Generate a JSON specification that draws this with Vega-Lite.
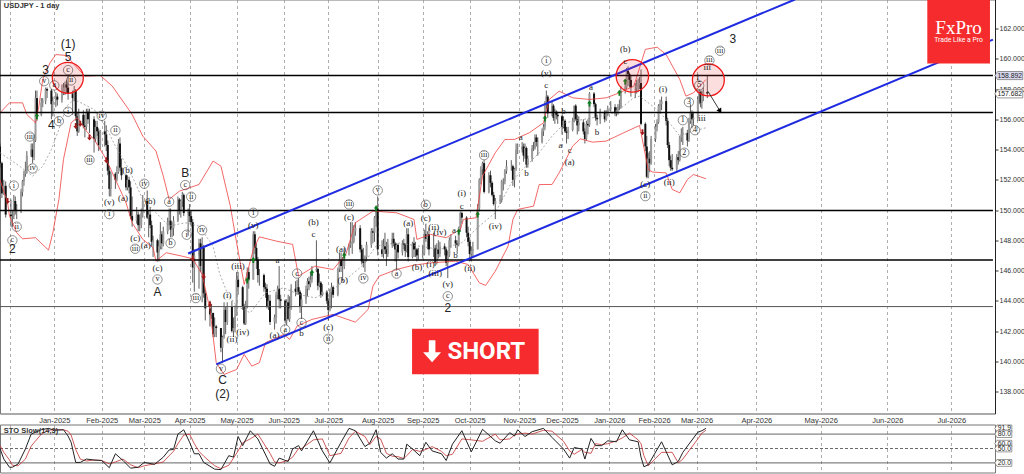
{"$schema":"https://vega.github.io/schema/vega-lite/v6.json","padding":{"left":-3,"top":-1.5,"right":0,"bottom":0},"background":"white","spacing":11,"bounds":"flush",
"config":{"view":{"stroke":"#777","strokeWidth":1},"text":{"font":"Liberation Sans"}},
"datasets":{
"bars":[
{"d":"2024-11-26","o":154.2,"h":154.4,"l":152.8,"c":153.1},{"d":"2024-11-27","o":153.1,"h":153.2,"l":150.8,"c":151.1},{"d":"2024-11-28","o":151.1,"h":152.0,"l":151.0,"c":151.6},{"d":"2024-11-29","o":151.6,"h":151.9,"l":149.5,"c":149.7},
{"d":"2024-12-02","o":149.7,"h":150.7,"l":148.9,"c":149.6},{"d":"2024-12-03","o":149.6,"h":150.0,"l":148.9,"c":149.6},{"d":"2024-12-04","o":149.6,"h":151.0,"l":149.4,"c":150.6},{"d":"2024-12-05","o":150.6,"h":150.9,"l":149.7,"c":150.0},{"d":"2024-12-06","o":150.0,"h":150.4,"l":149.4,"c":150.0},{"d":"2024-12-09","o":150.0,"h":151.4,"l":149.8,"c":151.2},{"d":"2024-12-10","o":151.2,"h":152.0,"l":150.9,"c":151.9},{"d":"2024-12-11","o":151.9,"h":152.6,"l":151.6,"c":152.4},{"d":"2024-12-12","o":152.4,"h":153.2,"l":152.2,"c":152.6},{"d":"2024-12-13","o":152.6,"h":153.9,"l":152.4,"c":153.6},{"d":"2024-12-16","o":153.6,"h":154.4,"l":153.5,"c":154.0},{"d":"2024-12-17","o":154.0,"h":154.4,"l":153.1,"c":153.5},{"d":"2024-12-18","o":153.5,"h":155.0,"l":153.3,"c":154.6},{"d":"2024-12-19","o":154.6,"h":157.9,"l":154.5,"c":157.4},{"d":"2024-12-20","o":157.4,"h":157.9,"l":155.9,"c":156.3},{"d":"2024-12-23","o":156.3,"h":157.4,"l":156.2,"c":157.1},{"d":"2024-12-24","o":157.1,"h":157.4,"l":156.8,"c":157.2},{"d":"2024-12-26","o":157.2,"h":158.1,"l":157.0,"c":158.0},{"d":"2024-12-27","o":158.0,"h":158.1,"l":157.4,"c":157.9},{"d":"2024-12-30","o":157.9,"h":158.0,"l":156.0,"c":157.0},{"d":"2024-12-31","o":157.0,"h":157.5,"l":156.2,"c":157.2},
{"d":"2025-01-02","o":157.2,"h":157.8,"l":156.8,"c":157.5},{"d":"2025-01-03","o":157.5,"h":157.7,"l":156.9,"c":157.3},{"d":"2025-01-06","o":157.3,"h":158.3,"l":157.1,"c":157.7},{"d":"2025-01-07","o":157.7,"h":158.4,"l":157.6,"c":158.1},{"d":"2025-01-08","o":158.1,"h":158.5,"l":157.6,"c":158.3},{"d":"2025-01-09","o":158.3,"h":158.6,"l":157.7,"c":158.1},{"d":"2025-01-10","o":158.1,"h":158.9,"l":157.3,"c":157.7},{"d":"2025-01-13","o":157.7,"h":157.9,"l":156.3,"c":157.4},{"d":"2025-01-14","o":157.4,"h":158.2,"l":157.2,"c":157.9},{"d":"2025-01-15","o":157.9,"h":158.0,"l":155.9,"c":156.2},{"d":"2025-01-16","o":156.2,"h":156.5,"l":154.9,"c":155.2},{"d":"2025-01-17","o":155.2,"h":156.7,"l":155.1,"c":156.3},{"d":"2025-01-20","o":156.3,"h":156.6,"l":155.4,"c":155.6},{"d":"2025-01-21","o":155.6,"h":156.3,"l":154.8,"c":155.5},{"d":"2025-01-22","o":155.5,"h":156.7,"l":155.3,"c":156.5},{"d":"2025-01-23","o":156.5,"h":156.7,"l":155.7,"c":156.0},{"d":"2025-01-24","o":156.0,"h":156.7,"l":155.1,"c":156.0},{"d":"2025-01-27","o":156.0,"h":156.2,"l":153.8,"c":154.7},{"d":"2025-01-28","o":154.7,"h":155.9,"l":154.5,"c":155.5},{"d":"2025-01-29","o":155.5,"h":155.9,"l":154.9,"c":155.2},{"d":"2025-01-30","o":155.2,"h":155.4,"l":153.9,"c":154.3},{"d":"2025-01-31","o":154.3,"h":155.3,"l":154.0,"c":155.2},
{"d":"2025-02-03","o":155.2,"h":155.9,"l":154.2,"c":155.0},{"d":"2025-02-04","o":155.0,"h":155.6,"l":153.9,"c":154.3},{"d":"2025-02-05","o":154.3,"h":154.6,"l":152.3,"c":152.6},{"d":"2025-02-06","o":152.6,"h":152.9,"l":150.9,"c":151.4},{"d":"2025-02-07","o":151.4,"h":152.5,"l":150.9,"c":152.4},{"d":"2025-02-10","o":152.4,"h":152.5,"l":151.4,"c":152.0},{"d":"2025-02-11","o":152.0,"h":152.9,"l":151.9,"c":152.5},{"d":"2025-02-12","o":152.5,"h":154.7,"l":152.4,"c":154.4},{"d":"2025-02-13","o":154.4,"h":154.8,"l":152.6,"c":152.8},{"d":"2025-02-14","o":152.8,"h":153.4,"l":152.0,"c":152.3},{"d":"2025-02-17","o":152.3,"h":152.4,"l":151.3,"c":151.5},{"d":"2025-02-18","o":151.5,"h":152.3,"l":151.3,"c":152.0},{"d":"2025-02-19","o":152.0,"h":152.2,"l":151.1,"c":151.5},{"d":"2025-02-20","o":151.5,"h":151.9,"l":149.4,"c":149.6},{"d":"2025-02-21","o":149.6,"h":150.9,"l":148.9,"c":149.3},{"d":"2025-02-24","o":149.3,"h":150.2,"l":149.1,"c":149.7},{"d":"2025-02-25","o":149.7,"h":149.9,"l":148.6,"c":149.0},{"d":"2025-02-26","o":149.0,"h":149.7,"l":148.6,"c":149.0},{"d":"2025-02-27","o":149.0,"h":150.1,"l":148.8,"c":149.8},{"d":"2025-02-28","o":149.8,"h":151.0,"l":149.5,"c":150.6},
{"d":"2025-03-03","o":150.6,"h":151.3,"l":149.4,"c":149.5},{"d":"2025-03-04","o":149.5,"h":150.0,"l":148.2,"c":149.7},{"d":"2025-03-05","o":149.7,"h":150.2,"l":148.8,"c":149.0},{"d":"2025-03-06","o":149.0,"h":149.3,"l":147.6,"c":147.9},{"d":"2025-03-07","o":147.9,"h":148.3,"l":146.9,"c":148.0},{"d":"2025-03-10","o":148.0,"h":148.1,"l":146.6,"c":147.2},{"d":"2025-03-11","o":147.2,"h":148.0,"l":146.6,"c":147.6},{"d":"2025-03-12","o":147.6,"h":149.2,"l":147.4,"c":148.4},{"d":"2025-03-13","o":148.4,"h":148.6,"l":147.4,"c":147.8},{"d":"2025-03-14","o":147.8,"h":148.9,"l":147.6,"c":148.6},{"d":"2025-03-17","o":148.6,"h":149.5,"l":148.4,"c":149.2},{"d":"2025-03-18","o":149.2,"h":150.1,"l":149.0,"c":149.3},{"d":"2025-03-19","o":149.3,"h":150.1,"l":148.2,"c":148.7},{"d":"2025-03-20","o":148.7,"h":149.2,"l":148.2,"c":148.8},{"d":"2025-03-21","o":148.8,"h":149.6,"l":148.3,"c":149.3},{"d":"2025-03-24","o":149.3,"h":150.9,"l":149.2,"c":150.7},{"d":"2025-03-25","o":150.7,"h":150.8,"l":149.7,"c":150.0},{"d":"2025-03-26","o":150.0,"h":150.7,"l":149.5,"c":150.6},{"d":"2025-03-27","o":150.6,"h":151.2,"l":150.2,"c":151.0},{"d":"2025-03-28","o":151.0,"h":151.1,"l":149.6,"c":149.8},{"d":"2025-03-31","o":149.8,"h":150.1,"l":148.3,"c":149.9},
{"d":"2025-04-01","o":149.9,"h":150.4,"l":149.2,"c":149.6},{"d":"2025-04-02","o":149.6,"h":150.0,"l":148.9,"c":149.2},{"d":"2025-04-03","o":149.2,"h":149.4,"l":145.2,"c":146.2},{"d":"2025-04-04","o":146.2,"h":147.4,"l":144.6,"c":147.0},{"d":"2025-04-07","o":147.0,"h":148.1,"l":144.8,"c":147.8},{"d":"2025-04-08","o":147.8,"h":148.1,"l":145.9,"c":146.3},{"d":"2025-04-09","o":146.3,"h":148.2,"l":143.9,"c":147.5},{"d":"2025-04-10","o":147.5,"h":147.7,"l":144.2,"c":144.5},{"d":"2025-04-11","o":144.5,"h":144.7,"l":142.7,"c":143.5},{"d":"2025-04-14","o":143.5,"h":144.0,"l":142.3,"c":143.1},{"d":"2025-04-15","o":143.1,"h":143.8,"l":142.8,"c":143.2},{"d":"2025-04-16","o":143.2,"h":143.2,"l":141.6,"c":141.8},{"d":"2025-04-17","o":141.8,"h":142.9,"l":141.6,"c":142.3},{"d":"2025-04-18","o":142.3,"h":142.4,"l":141.6,"c":142.2},{"d":"2025-04-21","o":142.2,"h":142.2,"l":140.6,"c":140.9},{"d":"2025-04-22","o":140.9,"h":141.7,"l":139.9,"c":141.6},{"d":"2025-04-23","o":141.6,"h":143.9,"l":141.5,"c":143.4},{"d":"2025-04-24","o":143.4,"h":143.6,"l":141.8,"c":142.6},{"d":"2025-04-25","o":142.6,"h":143.9,"l":142.4,"c":143.6},{"d":"2025-04-28","o":143.6,"h":144.0,"l":141.9,"c":142.0},{"d":"2025-04-29","o":142.0,"h":142.9,"l":141.6,"c":142.2},{"d":"2025-04-30","o":142.2,"h":143.7,"l":141.9,"c":143.0},
{"d":"2025-05-01","o":143.0,"h":145.9,"l":143.0,"c":145.4},{"d":"2025-05-02","o":145.4,"h":145.9,"l":144.4,"c":144.9},{"d":"2025-05-05","o":144.9,"h":145.0,"l":143.4,"c":143.6},{"d":"2025-05-06","o":143.6,"h":143.8,"l":142.4,"c":142.5},{"d":"2025-05-07","o":142.5,"h":144.0,"l":142.4,"c":143.7},{"d":"2025-05-08","o":143.7,"h":146.2,"l":143.5,"c":145.9},{"d":"2025-05-09","o":145.9,"h":146.2,"l":144.8,"c":145.4},{"d":"2025-05-12","o":145.4,"h":148.6,"l":145.4,"c":148.4},{"d":"2025-05-13","o":148.4,"h":148.6,"l":147.1,"c":147.5},{"d":"2025-05-14","o":147.5,"h":147.8,"l":146.1,"c":146.7},{"d":"2025-05-15","o":146.7,"h":146.9,"l":145.2,"c":145.7},{"d":"2025-05-16","o":145.7,"h":146.1,"l":145.0,"c":145.7},{"d":"2025-05-19","o":145.7,"h":145.8,"l":144.6,"c":144.9},{"d":"2025-05-20","o":144.9,"h":145.2,"l":144.2,"c":144.8},{"d":"2025-05-21","o":144.8,"h":145.1,"l":143.5,"c":143.6},{"d":"2025-05-22","o":143.6,"h":144.4,"l":143.4,"c":144.0},{"d":"2025-05-23","o":144.0,"h":144.4,"l":142.4,"c":142.6},{"d":"2025-05-26","o":142.6,"h":143.1,"l":142.1,"c":142.9},{"d":"2025-05-27","o":142.9,"h":144.6,"l":142.5,"c":144.4},{"d":"2025-05-28","o":144.4,"h":145.0,"l":144.1,"c":144.8},{"d":"2025-05-29","o":144.8,"h":146.3,"l":143.5,"c":144.1},{"d":"2025-05-30","o":144.1,"h":144.4,"l":143.5,"c":144.0},
{"d":"2025-06-02","o":144.0,"h":144.1,"l":142.5,"c":142.7},{"d":"2025-06-03","o":142.7,"h":144.1,"l":142.4,"c":143.9},{"d":"2025-06-04","o":143.9,"h":144.4,"l":142.7,"c":142.8},{"d":"2025-06-05","o":142.8,"h":144.3,"l":142.6,"c":143.5},{"d":"2025-06-06","o":143.5,"h":145.1,"l":143.4,"c":144.8},{"d":"2025-06-09","o":144.8,"h":145.3,"l":144.3,"c":144.6},{"d":"2025-06-10","o":144.6,"h":145.4,"l":144.4,"c":144.9},{"d":"2025-06-11","o":144.9,"h":145.5,"l":144.4,"c":144.6},{"d":"2025-06-12","o":144.6,"h":144.7,"l":143.2,"c":143.6},{"d":"2025-06-13","o":143.6,"h":144.5,"l":142.8,"c":144.1},{"d":"2025-06-16","o":144.1,"h":145.0,"l":143.8,"c":144.8},{"d":"2025-06-17","o":144.8,"h":145.5,"l":144.3,"c":145.3},{"d":"2025-06-18","o":145.3,"h":145.6,"l":144.7,"c":145.1},{"d":"2025-06-19","o":145.1,"h":145.9,"l":144.9,"c":145.4},{"d":"2025-06-20","o":145.4,"h":146.3,"l":145.2,"c":146.0},{"d":"2025-06-23","o":146.0,"h":148.0,"l":145.9,"c":146.1},{"d":"2025-06-24","o":146.1,"h":146.2,"l":144.7,"c":145.0},{"d":"2025-06-25","o":145.0,"h":145.8,"l":144.9,"c":145.2},{"d":"2025-06-26","o":145.2,"h":145.3,"l":144.2,"c":144.4},{"d":"2025-06-27","o":144.4,"h":145.1,"l":144.3,"c":144.6},{"d":"2025-06-30","o":144.6,"h":144.7,"l":143.8,"c":144.0},
{"d":"2025-07-01","o":144.0,"h":144.2,"l":142.7,"c":143.4},{"d":"2025-07-02","o":143.4,"h":144.8,"l":143.3,"c":144.6},{"d":"2025-07-03","o":144.6,"h":145.2,"l":143.5,"c":144.9},{"d":"2025-07-04","o":144.9,"h":145.0,"l":144.2,"c":144.4},{"d":"2025-07-07","o":144.4,"h":146.2,"l":144.3,"c":146.1},{"d":"2025-07-08","o":146.1,"h":147.2,"l":145.9,"c":146.7},{"d":"2025-07-09","o":146.7,"h":147.2,"l":145.9,"c":146.3},{"d":"2025-07-10","o":146.3,"h":146.9,"l":145.3,"c":146.3},{"d":"2025-07-11","o":146.3,"h":147.5,"l":146.1,"c":147.4},{"d":"2025-07-14","o":147.4,"h":147.8,"l":147.0,"c":147.7},{"d":"2025-07-15","o":147.7,"h":149.2,"l":147.5,"c":147.8},{"d":"2025-07-16","o":147.8,"h":149.2,"l":147.1,"c":147.9},{"d":"2025-07-17","o":147.9,"h":149.0,"l":147.8,"c":148.6},{"d":"2025-07-18","o":148.6,"h":149.2,"l":148.3,"c":148.8},{"d":"2025-07-21","o":148.8,"h":149.0,"l":147.2,"c":147.4},{"d":"2025-07-22","o":147.4,"h":147.7,"l":146.4,"c":146.6},{"d":"2025-07-23","o":146.6,"h":147.5,"l":146.2,"c":146.5},{"d":"2025-07-24","o":146.5,"h":147.0,"l":145.9,"c":146.9},{"d":"2025-07-25","o":146.9,"h":147.9,"l":146.6,"c":147.7},{"d":"2025-07-28","o":147.7,"h":148.8,"l":147.5,"c":148.6},{"d":"2025-07-29","o":148.6,"h":148.8,"l":147.8,"c":148.5},{"d":"2025-07-30","o":148.5,"h":149.6,"l":147.9,"c":149.5},{"d":"2025-07-31","o":149.5,"h":150.3,"l":148.9,"c":150.1},
{"d":"2025-08-01","o":150.1,"h":150.9,"l":147.0,"c":147.4},{"d":"2025-08-04","o":147.4,"h":148.0,"l":146.9,"c":147.1},{"d":"2025-08-05","o":147.1,"h":148.1,"l":146.8,"c":147.6},{"d":"2025-08-06","o":147.6,"h":148.5,"l":147.1,"c":147.4},{"d":"2025-08-07","o":147.4,"h":147.9,"l":146.3,"c":147.1},{"d":"2025-08-08","o":147.1,"h":148.1,"l":146.9,"c":147.7},{"d":"2025-08-11","o":147.7,"h":148.5,"l":147.5,"c":148.1},{"d":"2025-08-12","o":148.1,"h":148.5,"l":147.6,"c":147.8},{"d":"2025-08-13","o":147.8,"h":147.9,"l":146.6,"c":147.4},{"d":"2025-08-14","o":147.4,"h":147.8,"l":146.0,"c":147.7},{"d":"2025-08-15","o":147.7,"h":147.8,"l":146.8,"c":147.2},{"d":"2025-08-18","o":147.2,"h":148.0,"l":147.0,"c":147.8},{"d":"2025-08-19","o":147.8,"h":148.1,"l":147.4,"c":147.7},{"d":"2025-08-20","o":147.7,"h":147.8,"l":146.9,"c":147.3},{"d":"2025-08-21","o":147.3,"h":148.8,"l":147.2,"c":148.4},{"d":"2025-08-22","o":148.4,"h":148.8,"l":146.6,"c":146.9},{"d":"2025-08-25","o":146.9,"h":147.9,"l":146.8,"c":147.8},{"d":"2025-08-26","o":147.8,"h":148.2,"l":146.9,"c":147.4},{"d":"2025-08-27","o":147.4,"h":147.9,"l":146.9,"c":147.4},{"d":"2025-08-28","o":147.4,"h":147.5,"l":146.6,"c":147.0},{"d":"2025-08-29","o":147.0,"h":147.5,"l":146.7,"c":147.0},
{"d":"2025-09-01","o":147.0,"h":147.7,"l":146.8,"c":147.1},{"d":"2025-09-02","o":147.1,"h":148.7,"l":147.0,"c":148.4},{"d":"2025-09-03","o":148.4,"h":149.1,"l":147.9,"c":148.1},{"d":"2025-09-04","o":148.1,"h":148.6,"l":147.4,"c":148.4},{"d":"2025-09-05","o":148.4,"h":148.8,"l":147.0,"c":147.4},{"d":"2025-09-08","o":147.4,"h":148.5,"l":146.9,"c":147.5},{"d":"2025-09-09","o":147.5,"h":147.7,"l":146.3,"c":146.5},{"d":"2025-09-10","o":146.5,"h":147.8,"l":146.4,"c":147.4},{"d":"2025-09-11","o":147.4,"h":148.0,"l":146.8,"c":147.1},{"d":"2025-09-12","o":147.1,"h":147.9,"l":146.9,"c":147.6},{"d":"2025-09-15","o":147.6,"h":147.8,"l":147.0,"c":147.4},{"d":"2025-09-16","o":147.4,"h":147.5,"l":146.3,"c":146.5},{"d":"2025-09-17","o":146.5,"h":147.3,"l":145.5,"c":147.0},{"d":"2025-09-18","o":147.0,"h":148.2,"l":146.9,"c":148.0},{"d":"2025-09-19","o":148.0,"h":148.4,"l":147.5,"c":148.0},{"d":"2025-09-22","o":148.0,"h":148.3,"l":147.5,"c":147.8},{"d":"2025-09-23","o":147.8,"h":148.0,"l":147.1,"c":147.7},{"d":"2025-09-24","o":147.7,"h":148.9,"l":147.6,"c":148.8},{"d":"2025-09-25","o":148.8,"h":149.9,"l":148.6,"c":149.8},{"d":"2025-09-26","o":149.8,"h":149.9,"l":149.1,"c":149.5},{"d":"2025-09-29","o":149.5,"h":149.6,"l":148.2,"c":148.5},{"d":"2025-09-30","o":148.5,"h":148.9,"l":147.6,"c":147.9},
{"d":"2025-10-01","o":147.9,"h":148.2,"l":146.6,"c":147.1},{"d":"2025-10-02","o":147.1,"h":147.6,"l":146.6,"c":147.3},{"d":"2025-10-03","o":147.3,"h":147.9,"l":146.9,"c":147.4},{"d":"2025-10-06","o":147.4,"h":150.4,"l":147.4,"c":150.1},{"d":"2025-10-07","o":150.1,"h":152.1,"l":149.9,"c":152.0},{"d":"2025-10-08","o":152.0,"h":152.9,"l":151.7,"c":152.7},{"d":"2025-10-09","o":152.7,"h":153.2,"l":152.3,"c":153.1},{"d":"2025-10-10","o":153.1,"h":153.3,"l":151.1,"c":151.2},{"d":"2025-10-13","o":151.2,"h":152.5,"l":151.1,"c":152.3},{"d":"2025-10-14","o":152.3,"h":152.6,"l":151.5,"c":151.8},{"d":"2025-10-15","o":151.8,"h":151.9,"l":150.9,"c":151.0},{"d":"2025-10-16","o":151.0,"h":151.2,"l":150.3,"c":150.4},{"d":"2025-10-17","o":150.4,"h":150.8,"l":149.4,"c":150.6},{"d":"2025-10-20","o":150.6,"h":151.0,"l":150.4,"c":150.7},{"d":"2025-10-21","o":150.7,"h":152.0,"l":150.5,"c":151.9},{"d":"2025-10-22","o":151.9,"h":152.1,"l":151.3,"c":151.9},{"d":"2025-10-23","o":151.9,"h":152.7,"l":151.7,"c":152.6},{"d":"2025-10-24","o":152.6,"h":153.3,"l":152.4,"c":152.9},{"d":"2025-10-27","o":152.9,"h":153.3,"l":152.6,"c":152.9},{"d":"2025-10-28","o":152.9,"h":153.0,"l":151.6,"c":152.0},{"d":"2025-10-29","o":152.0,"h":152.8,"l":151.5,"c":152.7},{"d":"2025-10-30","o":152.7,"h":154.4,"l":152.6,"c":154.0},{"d":"2025-10-31","o":154.0,"h":154.4,"l":153.7,"c":154.0},
{"d":"2025-11-03","o":154.0,"h":154.5,"l":153.8,"c":154.2},{"d":"2025-11-04","o":154.2,"h":154.4,"l":153.2,"c":153.6},{"d":"2025-11-05","o":153.6,"h":154.4,"l":153.4,"c":154.1},{"d":"2025-11-06","o":154.1,"h":154.2,"l":152.8,"c":153.0},{"d":"2025-11-07","o":153.0,"h":153.6,"l":152.8,"c":153.4},{"d":"2025-11-10","o":153.4,"h":154.3,"l":153.2,"c":154.1},{"d":"2025-11-11","o":154.1,"h":154.5,"l":153.9,"c":154.1},{"d":"2025-11-12","o":154.1,"h":155.0,"l":154.0,"c":154.8},{"d":"2025-11-13","o":154.8,"h":155.0,"l":154.2,"c":154.5},{"d":"2025-11-14","o":154.5,"h":154.8,"l":153.6,"c":154.5},{"d":"2025-11-17","o":154.5,"h":155.4,"l":154.4,"c":155.2},{"d":"2025-11-18","o":155.2,"h":155.7,"l":154.9,"c":155.5},{"d":"2025-11-19","o":155.5,"h":157.2,"l":155.3,"c":157.0},{"d":"2025-11-20","o":157.0,"h":157.9,"l":156.7,"c":157.5},{"d":"2025-11-21","o":157.5,"h":157.6,"l":156.1,"c":156.4},{"d":"2025-11-24","o":156.4,"h":157.2,"l":156.2,"c":156.9},{"d":"2025-11-25","o":156.9,"h":157.0,"l":155.9,"c":156.1},{"d":"2025-11-26","o":156.1,"h":156.7,"l":155.7,"c":156.5},{"d":"2025-11-27","o":156.5,"h":156.6,"l":156.0,"c":156.3},{"d":"2025-11-28","o":156.3,"h":156.5,"l":155.7,"c":156.2},
{"d":"2025-12-01","o":156.2,"h":156.3,"l":155.0,"c":155.5},{"d":"2025-12-02","o":155.5,"h":156.2,"l":155.4,"c":155.9},{"d":"2025-12-03","o":155.9,"h":156.0,"l":155.1,"c":155.2},{"d":"2025-12-04","o":155.2,"h":155.5,"l":154.4,"c":155.1},{"d":"2025-12-05","o":155.1,"h":155.5,"l":154.7,"c":155.3},{"d":"2025-12-08","o":155.3,"h":156.1,"l":155.2,"c":155.9},{"d":"2025-12-09","o":155.9,"h":156.9,"l":155.8,"c":156.9},{"d":"2025-12-10","o":156.9,"h":157.0,"l":155.9,"c":156.0},{"d":"2025-12-11","o":156.0,"h":156.3,"l":155.0,"c":155.6},{"d":"2025-12-12","o":155.6,"h":156.2,"l":155.2,"c":155.8},{"d":"2025-12-15","o":155.8,"h":156.0,"l":155.0,"c":155.2},{"d":"2025-12-16","o":155.2,"h":155.4,"l":154.4,"c":154.7},{"d":"2025-12-17","o":154.7,"h":155.9,"l":154.6,"c":155.7},{"d":"2025-12-18","o":155.7,"h":156.0,"l":155.0,"c":155.6},{"d":"2025-12-19","o":155.6,"h":157.8,"l":155.5,"c":157.7},{"d":"2025-12-22","o":157.7,"h":157.8,"l":156.8,"c":157.0},{"d":"2025-12-23","o":157.0,"h":157.1,"l":155.9,"c":156.1},{"d":"2025-12-24","o":156.1,"h":156.3,"l":155.6,"c":156.0},{"d":"2025-12-26","o":156.0,"h":156.7,"l":155.7,"c":156.5},{"d":"2025-12-29","o":156.5,"h":156.6,"l":155.8,"c":156.0},{"d":"2025-12-30","o":156.0,"h":156.6,"l":155.9,"c":156.4},{"d":"2025-12-31","o":156.4,"h":156.9,"l":156.2,"c":156.7},
{"d":"2026-01-02","o":156.7,"h":157.2,"l":156.5,"c":156.8},{"d":"2026-01-05","o":156.8,"h":157.0,"l":156.2,"c":156.4},{"d":"2026-01-06","o":156.4,"h":156.8,"l":156.2,"c":156.6},{"d":"2026-01-07","o":156.6,"h":157.0,"l":156.3,"c":156.8},{"d":"2026-01-08","o":156.8,"h":157.3,"l":156.6,"c":156.8},{"d":"2026-01-09","o":156.8,"h":158.2,"l":156.7,"c":157.9},{"d":"2026-01-12","o":157.9,"h":158.4,"l":157.7,"c":158.1},{"d":"2026-01-13","o":158.1,"h":159.4,"l":158.0,"c":159.2},{"d":"2026-01-14","o":159.2,"h":159.5,"l":158.2,"c":159.0},{"d":"2026-01-15","o":159.0,"h":159.1,"l":158.1,"c":158.6},{"d":"2026-01-16","o":158.6,"h":158.9,"l":157.5,"c":158.1},{"d":"2026-01-19","o":158.1,"h":158.4,"l":157.4,"c":158.1},{"d":"2026-01-20","o":158.1,"h":158.6,"l":157.7,"c":158.2},{"d":"2026-01-21","o":158.2,"h":158.7,"l":157.8,"c":158.3},{"d":"2026-01-22","o":158.3,"h":158.8,"l":158.0,"c":158.4},{"d":"2026-01-23","o":158.4,"h":159.3,"l":155.6,"c":155.7},{"d":"2026-01-26","o":155.7,"h":155.8,"l":153.9,"c":154.2},{"d":"2026-01-27","o":154.2,"h":154.9,"l":152.1,"c":152.2},{"d":"2026-01-28","o":152.2,"h":153.8,"l":152.1,"c":153.4},{"d":"2026-01-29","o":153.4,"h":153.9,"l":152.5,"c":153.1},{"d":"2026-01-30","o":153.1,"h":154.9,"l":153.0,"c":154.7},
{"d":"2026-02-02","o":154.7,"h":155.7,"l":154.5,"c":155.5},{"d":"2026-02-03","o":155.5,"h":156.0,"l":155.2,"c":155.8},{"d":"2026-02-04","o":155.8,"h":157.0,"l":155.7,"c":156.9},{"d":"2026-02-05","o":156.9,"h":157.3,"l":156.4,"c":157.0},{"d":"2026-02-06","o":157.0,"h":157.5,"l":156.6,"c":157.2},{"d":"2026-02-09","o":157.2,"h":157.5,"l":155.6,"c":155.9},{"d":"2026-02-10","o":155.9,"h":156.1,"l":154.1,"c":154.3},{"d":"2026-02-11","o":154.3,"h":154.5,"l":152.9,"c":153.3},{"d":"2026-02-12","o":153.3,"h":153.6,"l":152.6,"c":152.8},{"d":"2026-02-13","o":152.8,"h":153.7,"l":152.6,"c":152.7},{"d":"2026-02-16","o":152.7,"h":153.7,"l":152.6,"c":153.5},{"d":"2026-02-17","o":153.5,"h":153.9,"l":153.0,"c":153.3},{"d":"2026-02-18","o":153.3,"h":154.9,"l":153.2,"c":154.8},{"d":"2026-02-19","o":154.8,"h":155.4,"l":154.5,"c":155.0},{"d":"2026-02-20","o":155.0,"h":155.5,"l":154.3,"c":155.1},{"d":"2026-02-23","o":155.1,"h":155.3,"l":154.2,"c":154.6},{"d":"2026-02-24","o":154.6,"h":156.1,"l":154.5,"c":155.9},{"d":"2026-02-25","o":155.9,"h":157.0,"l":155.7,"c":156.4},{"d":"2026-02-26","o":156.4,"h":156.6,"l":155.4,"c":156.0},{"d":"2026-02-27","o":156.0,"h":156.5,"l":155.6,"c":156.1},
{"d":"2026-03-02","o":156.1,"h":157.5,"l":155.9,"c":157.3},{"d":"2026-03-03","o":157.3,"h":158.0,"l":157.0,"c":157.8},{"d":"2026-03-04","o":157.8,"h":157.9,"l":156.8,"c":157.1},{"d":"2026-03-05","o":157.1,"h":157.9,"l":156.7,"c":157.6},{"d":"2026-03-06","o":157.6,"h":158.1,"l":157.2,"c":157.8},{"d":"2026-03-09","o":157.8,"h":158.9,"l":157.4,"c":157.7}
],
"upper":[{"d":"2024-11-26","p":156.43},{"d":"2024-12-01","p":157.09},{"d":"2024-12-10","p":157.09},{"d":"2024-12-13","p":156.32},{"d":"2024-12-19","p":155.77},{"d":"2024-12-21","p":156.65},{"d":"2024-12-24","p":158.63},{"d":"2024-12-29","p":159.73},{"d":"2025-01-02","p":160.28},{"d":"2025-01-09","p":160.22},{"d":"2025-01-14","p":159.62},{"d":"2025-01-21","p":158.85},{"d":"2025-01-31","p":158.9},{"d":"2025-02-08","p":158.19},{"d":"2025-02-21","p":156.32},{"d":"2025-02-28","p":154.89},{"d":"2025-03-09","p":153.9},{"d":"2025-03-14","p":152.24},{"d":"2025-03-18","p":150.7},{"d":"2025-03-25","p":151.25},{"d":"2025-04-07","p":151.69},{"d":"2025-04-16","p":153.24},{"d":"2025-04-21","p":152.9},{"d":"2025-04-27","p":150.26},{"d":"2025-05-01","p":147.84},{"d":"2025-05-06","p":145.08},{"d":"2025-05-12","p":147.4},{"d":"2025-05-16","p":148.23},{"d":"2025-05-27","p":147.95},{"d":"2025-06-07","p":147.73},{"d":"2025-06-11","p":145.63},{"d":"2025-06-22","p":146.29},{"d":"2025-07-04","p":146.07},{"d":"2025-07-12","p":147.07},{"d":"2025-07-18","p":149.16},{"d":"2025-07-29","p":149.93},{"d":"2025-08-14","p":149.82},{"d":"2025-08-26","p":149.38},{"d":"2025-08-28","p":148.06},{"d":"2025-09-06","p":148.39},{"d":"2025-09-16","p":148.17},{"d":"2025-09-25","p":148.72},{"d":"2025-09-27","p":149.38},{"d":"2025-10-05","p":149.49},{"d":"2025-10-09","p":152.24},{"d":"2025-10-17","p":153.79},{"d":"2025-10-23","p":154.67},{"d":"2025-10-29","p":154.67},{"d":"2025-11-08","p":155.11},{"d":"2025-11-18","p":155.77},{"d":"2025-11-22","p":157.31},{"d":"2025-11-29","p":157.86},{"d":"2025-12-08","p":157.42},{"d":"2025-12-19","p":157.31},{"d":"2025-12-30","p":157.42},{"d":"2026-01-08","p":157.75},{"d":"2026-01-18","p":158.19},{"d":"2026-01-26","p":160.62},{"d":"2026-02-03","p":160.77},{"d":"2026-02-09","p":160.28},{"d":"2026-02-18","p":158.63},{"d":"2026-02-22","p":157.53},{"d":"2026-02-27","p":157.75},{"d":"2026-03-08","p":158.63}],
"lower":[{"d":"2024-11-26","p":152.0},{"d":"2024-11-30","p":150.48},{"d":"2024-12-01","p":149.6},{"d":"2024-12-06","p":148.5},{"d":"2024-12-10","p":148.1},{"d":"2024-12-19","p":148.17},{"d":"2024-12-28","p":147.35},{"d":"2024-12-31","p":148.5},{"d":"2025-01-04","p":150.7},{"d":"2025-01-07","p":153.35},{"d":"2025-01-12","p":155.77},{"d":"2025-01-16","p":156.1},{"d":"2025-01-22","p":155.22},{"d":"2025-01-27","p":154.67},{"d":"2025-02-04","p":153.35},{"d":"2025-02-10","p":152.02},{"d":"2025-02-17","p":150.48},{"d":"2025-02-21","p":149.16},{"d":"2025-02-28","p":148.06},{"d":"2025-03-07","p":147.51},{"d":"2025-03-09","p":146.62},{"d":"2025-03-16","p":147.18},{"d":"2025-03-27","p":146.95},{"d":"2025-04-03","p":146.78},{"d":"2025-04-09","p":145.74},{"d":"2025-04-14","p":143.43},{"d":"2025-04-18","p":139.91},{"d":"2025-04-23","p":139.13},{"d":"2025-05-01","p":139.46},{"d":"2025-05-06","p":140.46},{"d":"2025-05-11","p":139.68},{"d":"2025-05-16","p":139.91},{"d":"2025-05-20","p":141.23},{"d":"2025-06-01","p":141.78},{"d":"2025-06-05","p":141.45},{"d":"2025-06-10","p":142.33},{"d":"2025-06-20","p":142.77},{"d":"2025-07-04","p":143.1},{"d":"2025-07-18","p":142.59},{"d":"2025-07-26","p":143.43},{"d":"2025-07-29","p":144.97},{"d":"2025-08-02","p":145.63},{"d":"2025-08-14","p":146.07},{"d":"2025-08-25","p":146.34},{"d":"2025-09-06","p":146.51},{"d":"2025-09-22","p":146.62},{"d":"2025-09-30","p":146.4},{"d":"2025-10-07","p":145.19},{"d":"2025-10-11","p":145.02},{"d":"2025-10-17","p":145.96},{"d":"2025-10-25","p":147.62},{"d":"2025-10-28","p":149.38},{"d":"2025-10-31","p":150.04},{"d":"2025-11-11","p":150.26},{"d":"2025-11-15","p":151.69},{"d":"2025-11-24","p":151.69},{"d":"2025-11-29","p":152.46},{"d":"2025-12-08","p":154.23},{"d":"2025-12-13","p":154.71},{"d":"2025-12-21","p":154.49},{"d":"2025-12-30","p":154.56},{"d":"2026-01-11","p":155.11},{"d":"2026-01-22","p":155.59},{"d":"2026-01-28","p":152.68},{"d":"2026-01-31","p":152.51},{"d":"2026-02-09","p":152.46},{"d":"2026-02-13","p":151.36},{"d":"2026-02-18","p":151.14},{"d":"2026-02-23","p":152.02},{"d":"2026-02-27","p":152.35},{"d":"2026-03-08","p":152.07}],
"mid":[{"d":"2024-11-26","p":153.79},{"d":"2024-12-08","p":152.9},{"d":"2024-12-17","p":152.24},{"d":"2024-12-24","p":152.9},{"d":"2024-12-30","p":154.0},{"d":"2025-01-04","p":155.33},{"d":"2025-01-09","p":156.87},{"d":"2025-01-14","p":157.31},{"d":"2025-01-27","p":156.65},{"d":"2025-02-04","p":155.44},{"d":"2025-02-10","p":154.23},{"d":"2025-02-19","p":152.68},{"d":"2025-02-28","p":150.7},{"d":"2025-03-09","p":149.82},{"d":"2025-03-18","p":148.94},{"d":"2025-03-29","p":149.16},{"d":"2025-04-07","p":148.94},{"d":"2025-04-16","p":147.62},{"d":"2025-04-20","p":145.85},{"d":"2025-04-25","p":144.53},{"d":"2025-05-01","p":143.65},{"d":"2025-05-10","p":143.21},{"d":"2025-05-20","p":144.53},{"d":"2025-06-01","p":144.86},{"d":"2025-06-11","p":144.42},{"d":"2025-06-22","p":144.2},{"d":"2025-07-04","p":144.75},{"d":"2025-07-12","p":145.41},{"d":"2025-07-22","p":146.29},{"d":"2025-07-31","p":147.62},{"d":"2025-08-14","p":147.84},{"d":"2025-09-12","p":147.4},{"d":"2025-09-26","p":147.84},{"d":"2025-10-07","p":148.94},{"d":"2025-10-17","p":149.82},{"d":"2025-10-27","p":151.8},{"d":"2025-11-01","p":152.46},{"d":"2025-11-15","p":153.79},{"d":"2025-11-24","p":154.89},{"d":"2025-12-03","p":155.77},{"d":"2025-12-21","p":156.1},{"d":"2026-01-05","p":156.43},{"d":"2026-01-18","p":157.42},{"d":"2026-01-22","p":157.53},{"d":"2026-02-03","p":156.65},{"d":"2026-02-13","p":155.55},{"d":"2026-02-18","p":154.89},{"d":"2026-02-27","p":155.22},{"d":"2026-03-08","p":155.44}],
"levels":[{"d":"2024-11-26","d2":"2026-07-21","p":158.892,"w":1.6,"col":"#000"},{"d":"2024-11-26","d2":"2026-07-21","p":156.45,"w":1.6,"col":"#000"},{"d":"2024-11-26","d2":"2026-07-21","p":149.97,"w":1.6,"col":"#000"},{"d":"2024-11-26","d2":"2026-07-21","p":146.7,"w":1.6,"col":"#000"},{"d":"2024-11-26","d2":"2026-07-21","p":143.618,"w":1,"col":"#555"}],
"chanU":[{"d":"2025-03-31","p":147.13},{"d":"2026-04-19","p":163.92}],
"chanL":[{"d":"2025-04-18","p":139.8},{"d":"2026-07-21","p":161.27}],
"circles":[{"d":"2025-01-09T20:00:00Z","p":158.74,"s":962},{"d":"2026-01-17","p":158.87,"s":1052},{"d":"2026-03-09T12:00:00Z","p":158.6,"s":1018}],
"arrow":[{"d":"2026-03-09T06:00:00Z","p":157.86},{"d":"2026-03-15","p":156.54}],
"arrowHead":[{"d":"2026-03-15","p":156.54}],
"greens":[{"d":"2024-12-20","p":156.2},{"d":"2025-05-08","p":145.35},{"d":"2025-05-12","p":146.7},{"d":"2025-06-20","p":145.85},{"d":"2025-07-11","p":147.0},{"d":"2025-07-31","p":150.1},{"d":"2025-09-24","p":148.56},{"d":"2025-10-06","p":149.7},{"d":"2025-11-19","p":156.05},{"d":"2025-12-19","p":157.05},{"d":"2026-01-08","p":157.75},{"d":"2026-01-12","p":158.5}],
"reds":[{"d":"2024-11-30","p":150.6},{"d":"2025-01-15","p":155.55},{"d":"2025-01-18","p":155.7},{"d":"2025-01-24","p":154.8},{"d":"2025-02-04","p":153.3},{"d":"2025-04-03","p":146.8},{"d":"2025-04-10","p":145.6},{"d":"2025-04-14","p":143.75},{"d":"2026-01-24","p":155.15}],
"big":[{"d":"2025-01-10","p":160.95,"t":"(1)"},{"d":"2025-01-10","p":160.13,"t":"5"},{"d":"2024-12-26","p":159.29,"t":"3"},{"d":"2024-12-30","p":155.6,"t":"4"},{"d":"2024-12-03","p":147.44,"t":"2"},{"d":"2025-03-29","p":152.46,"t":"B"},{"d":"2025-03-10","p":144.57,"t":"A"},{"d":"2025-04-22","p":138.74,"t":"C"},{"d":"2025-04-22","p":137.85,"t":"(2)"},{"d":"2025-09-17","p":143.5,"t":"2"},{"d":"2026-03-21","p":161.34,"t":"3"}],
"rings":[{"d":"2024-12-04","p":151.62,"t":"i"},{"d":"2024-12-06","p":148.9,"t":"ii"},{"d":"2024-12-03","p":148.0,"t":"c"},{"d":"2025-01-10","p":159.25,"t":"c"},{"d":"2024-12-25","p":158.52,"t":"v"},{"d":"2025-01-01","p":158.24,"t":"a"},{"d":"2025-01-12","p":158.57,"t":"ii"},{"d":"2025-01-10","p":156.5,"t":"i"},{"d":"2024-12-15","p":154.86,"t":"iii"},{"d":"2024-12-17","p":152.75,"t":"iv"},{"d":"2025-01-04","p":155.88,"t":"b"},{"d":"2025-02-01","p":156.23,"t":"iv"},{"d":"2025-02-10","p":155.26,"t":"ii"},{"d":"2025-01-24","p":153.32,"t":"iii"},{"d":"2025-02-06","p":149.73,"t":"i"},{"d":"2025-03-01","p":151.74,"t":"iv"},{"d":"2025-02-23","p":147.44,"t":"iii"},{"d":"2025-03-18","p":150.55,"t":"a"},{"d":"2025-03-19","p":147.81,"t":"b"},{"d":"2025-03-30","p":148.37,"t":"i"},{"d":"2025-03-29","p":151.65,"t":"c"},{"d":"2025-04-02","p":150.88,"t":"ii"},{"d":"2025-04-09","p":148.67,"t":"iv"},{"d":"2025-03-10","p":145.41,"t":"v"},{"d":"2025-04-05","p":144.18,"t":"iii"},{"d":"2025-05-12","p":149.82,"t":"i"},{"d":"2025-04-21","p":139.51,"t":"v"},{"d":"2025-06-02","p":142.1,"t":"a"},{"d":"2025-06-13","p":142.55,"t":"c"},{"d":"2025-06-10","p":145.8,"t":"c"},{"d":"2025-07-01","p":141.49,"t":"ii"},{"d":"2025-07-23","p":145.48,"t":"iv"},{"d":"2025-07-14","p":150.37,"t":"iii"},{"d":"2025-08-01","p":151.3,"t":"v"},{"d":"2025-08-14","p":145.8,"t":"a"},{"d":"2025-09-03","p":150.35,"t":"b"},{"d":"2025-09-17","p":144.3,"t":"c"},{"d":"2025-10-10","p":153.63,"t":"iii"},{"d":"2025-11-20","p":159.87,"t":"i"},{"d":"2026-01-26","p":150.92,"t":"ii"},{"d":"2026-03-15","p":160.53,"t":"iii"},{"d":"2026-03-10","p":159.89,"t":"iii"},{"d":"2026-03-03","p":158.24,"t":"5"},{"d":"2026-02-20","p":155.94,"t":"1"},{"d":"2026-02-24","p":157.13,"t":"3"},{"d":"2026-02-21","p":153.79,"t":"2"},{"d":"2026-02-28","p":155.28,"t":"4"}],
"small":[{"d":"2025-02-06","p":150.55,"t":"(v)"},{"d":"2025-02-18","p":152.68,"t":"(b)"},{"d":"2025-02-15","p":150.83,"t":"(a)"},{"d":"2025-03-05","p":150.6,"t":"(b)"},{"d":"2025-02-23","p":148.14,"t":"(c)"},{"d":"2025-03-02","p":147.72,"t":"(a)"},{"d":"2025-03-10","p":146.18,"t":"(c)"},{"d":"2025-04-25","p":144.37,"t":"(i)"},{"d":"2025-05-02","p":146.27,"t":"(iii)"},{"d":"2025-05-12","p":149.03,"t":"(v)"},{"d":"2025-04-28","p":141.49,"t":"(ii)"},{"d":"2025-05-05","p":141.95,"t":"(iv)"},{"d":"2025-05-28","p":146.67,"t":"a"},{"d":"2025-05-26","p":141.71,"t":"(a)"},{"d":"2025-06-13","p":141.89,"t":"b"},{"d":"2025-06-21","p":149.2,"t":"(b)"},{"d":"2025-06-21","p":148.39,"t":"c"},{"d":"2025-07-01","p":142.28,"t":"(c)"},{"d":"2025-07-09","p":147.4,"t":"(a)"},{"d":"2025-07-10","p":145.35,"t":"(b)"},{"d":"2025-07-14","p":149.55,"t":"(c)"},{"d":"2025-08-22","p":149.16,"t":"(a)"},{"d":"2025-08-28","p":146.22,"t":"(b)"},{"d":"2025-09-03","p":149.49,"t":"(c)"},{"d":"2025-09-08","p":148.9,"t":"(ii)"},{"d":"2025-09-12","p":148.54,"t":"(iv)"},{"d":"2025-09-06","p":146.45,"t":"(i)"},{"d":"2025-09-09","p":145.85,"t":"(iii)"},{"d":"2025-09-17","p":145.1,"t":"(v)"},{"d":"2025-09-21","p":148.7,"t":"a"},{"d":"2025-09-22","p":147.06,"t":"b"},{"d":"2025-09-26","p":150.3,"t":"c"},{"d":"2025-09-26","p":151.1,"t":"(i)"},{"d":"2025-10-01","p":146.14,"t":"(ii)"},{"d":"2025-10-17","p":148.96,"t":"(iv)"},{"d":"2025-11-02","p":154.84,"t":"a"},{"d":"2025-11-06","p":152.42,"t":"b"},{"d":"2025-11-20","p":159.07,"t":"(v)"},{"d":"2025-11-20","p":158.24,"t":"c"},{"d":"2025-12-02","p":156.58,"t":"b"},{"d":"2025-11-30","p":154.27,"t":"a"},{"d":"2025-12-06","p":153.96,"t":"c"},{"d":"2025-12-06","p":153.19,"t":"(a)"},{"d":"2025-12-20","p":158.15,"t":"a"},{"d":"2025-12-24","p":155.17,"t":"b"},{"d":"2026-01-12","p":160.62,"t":"(b)"},{"d":"2026-01-12","p":159.84,"t":"c"},{"d":"2026-01-26","p":151.69,"t":"(c)"},{"d":"2026-02-07","p":158.02,"t":"(i)"},{"d":"2026-02-11","p":151.87,"t":"(ii)"},{"d":"2026-03-09","p":159.45,"t":"iii"},{"d":"2026-03-02","p":158.81,"t":"i"},{"d":"2026-03-05","p":156.1,"t":"iii"}],
"boxes":[{"d":"2025-08-24T16:00:00Z","d2":"2025-11-14T14:00:00Z","p":142.15,"p2":139.15},{"d":"2026-06-19T18:00:00Z","d2":"2026-07-19T14:00:00Z","p":163.92,"p2":159.69}],
"tagsP":[{"d":"2026-07-28T15:00:00Z","p":158.892,"t":"158.892","f":"#d9d9ee"},{"d":"2026-07-28T15:00:00Z","p":157.682,"t":"157.682","f":"#ffffff"}],
"stoch":[{"d":"2024-11-26","k":50,"s":56},{"d":"2024-11-28","k":28,"s":42},{"d":"2024-12-01","k":11,"s":26},{"d":"2024-12-03","k":11,"s":15},{"d":"2024-12-07","k":18,"s":14},{"d":"2024-12-12","k":49,"s":28},{"d":"2024-12-16","k":80,"s":55},{"d":"2024-12-23","k":89,"s":80},{"d":"2024-12-28","k":92,"s":88},{"d":"2025-01-01","k":88,"s":89},{"d":"2025-01-07","k":89,"s":89},{"d":"2025-01-10","k":76,"s":86},{"d":"2025-01-12","k":63,"s":78},{"d":"2025-01-15","k":21,"s":48},{"d":"2025-01-18","k":21,"s":28},{"d":"2025-01-22","k":28,"s":24},{"d":"2025-01-27","k":26,"s":26},{"d":"2025-02-01","k":25,"s":25},{"d":"2025-02-06","k":10,"s":18},{"d":"2025-02-10","k":39,"s":22},{"d":"2025-02-15","k":25,"s":28},{"d":"2025-02-20","k":9,"s":16},{"d":"2025-02-25","k":11,"s":10},{"d":"2025-03-01","k":21,"s":14},{"d":"2025-03-08","k":17,"s":18},{"d":"2025-03-14","k":32,"s":22},{"d":"2025-03-18","k":47,"s":35},{"d":"2025-03-21","k":48,"s":44},{"d":"2025-03-24","k":80,"s":60},{"d":"2025-03-28","k":89,"s":78},{"d":"2025-04-01","k":63,"s":80},{"d":"2025-04-04","k":39,"s":60},{"d":"2025-04-07","k":39,"s":44},{"d":"2025-04-10","k":21,"s":34},{"d":"2025-04-17","k":7,"s":14},{"d":"2025-04-21","k":6,"s":8},{"d":"2025-04-26","k":35,"s":15},{"d":"2025-04-29","k":32,"s":30},{"d":"2025-05-02","k":75,"s":45},{"d":"2025-05-05","k":56,"s":62},{"d":"2025-05-10","k":87,"s":70},{"d":"2025-05-15","k":70,"s":80},{"d":"2025-05-23","k":18,"s":40},{"d":"2025-05-26","k":13,"s":22},{"d":"2025-05-29","k":30,"s":20},{"d":"2025-06-04","k":23,"s":25},{"d":"2025-06-07","k":49,"s":32},{"d":"2025-06-11","k":56,"s":50},{"d":"2025-06-13","k":45,"s":50},{"d":"2025-06-21","k":87,"s":68},{"d":"2025-06-27","k":45,"s":70},{"d":"2025-07-02","k":20,"s":35},{"d":"2025-07-09","k":63,"s":40},{"d":"2025-07-14","k":92,"s":72},{"d":"2025-07-18","k":87,"s":86},{"d":"2025-07-24","k":54,"s":75},{"d":"2025-07-27","k":61,"s":58},{"d":"2025-07-31","k":89,"s":75},{"d":"2025-08-03","k":42,"s":70},{"d":"2025-08-07","k":30,"s":40},{"d":"2025-08-11","k":39,"s":34},{"d":"2025-08-15","k":28,"s":33},{"d":"2025-08-19","k":28,"s":29},{"d":"2025-08-21","k":59,"s":35},{"d":"2025-08-25","k":49,"s":48},{"d":"2025-08-30","k":35,"s":44},{"d":"2025-09-03","k":63,"s":48},{"d":"2025-09-07","k":45,"s":54},{"d":"2025-09-13","k":39,"s":44},{"d":"2025-09-16","k":25,"s":35},{"d":"2025-09-20","k":59,"s":38},{"d":"2025-09-26","k":87,"s":70},{"d":"2025-10-02","k":43,"s":68},{"d":"2025-10-09","k":90,"s":65},{"d":"2025-10-17","k":66,"s":80},{"d":"2025-10-20","k":61,"s":68},{"d":"2025-10-26","k":83,"s":70},{"d":"2025-10-29","k":76,"s":78},{"d":"2025-10-31","k":89,"s":80},{"d":"2025-11-05","k":75,"s":82},{"d":"2025-11-10","k":85,"s":80},{"d":"2025-11-18","k":92,"s":88},{"d":"2025-11-24","k":73,"s":86},{"d":"2025-12-02","k":49,"s":65},{"d":"2025-12-06","k":30,"s":45},{"d":"2025-12-09","k":52,"s":38},{"d":"2025-12-14","k":49,"s":48},{"d":"2025-12-16","k":28,"s":42},{"d":"2025-12-20","k":71,"s":40},{"d":"2025-12-23","k":56,"s":60},{"d":"2025-12-27","k":56,"s":58},{"d":"2025-12-31","k":66,"s":60},{"d":"2026-01-06","k":64,"s":66},{"d":"2026-01-10","k":89,"s":72},{"d":"2026-01-15","k":68,"s":82},{"d":"2026-01-21","k":64,"s":68},{"d":"2026-01-23","k":32,"s":60},{"d":"2026-01-25","k":12,"s":35},{"d":"2026-01-28","k":16,"s":14},{"d":"2026-02-06","k":64,"s":42},{"d":"2026-02-13","k":16,"s":42},{"d":"2026-02-17","k":23,"s":20},{"d":"2026-02-20","k":42,"s":28},{"d":"2026-03-02","k":84,"s":70},{"d":"2026-03-05","k":87,"s":82},{"d":"2026-03-08","k":92,"s":88}],
"stLevels":[{"d":"2024-11-26","d2":"2026-07-22","v":80,"dash":0},{"d":"2024-11-26","d2":"2026-07-22","v":20,"dash":0},{"d":"2024-11-26","d2":"2026-07-22","v":50,"dash":1}],
"stTags":[{"d":"2026-07-26","v":91.9,"t":"91.9"},{"d":"2026-07-26","v":80,"t":"80.0"},{"d":"2026-07-26","v":60,"t":"60.0"},{"d":"2026-07-26","v":50,"t":"50.0"},{"d":"2026-07-26","v":20,"t":"20.0"}]
},
"vconcat":[
{"width":995,"height":414,
"encoding":{
"x":{"field":"x","type":"quantitative","title":null,"scale":{"zero":false,"nice":false,"domain":[1732579200000,1733011200000,1735689600000,1738368000000,1740787200000,1743465600000,1746057600000,1748736000000,1751328000000,1754006400000,1756684800000,1759276800000,1761955200000,1764547200000,1767225600000,1769904000000,1772323200000,1773014400000,1775001600000,1777593600000,1780272000000,1782864000000,1784678400000],"range":[0,9.5,54.3,101.7,144.3,189.6,236.6,283.7,328.3,377.7,422.7,469.7,519.3,562,609.3,654,696.5,707.3,756.3,820.7,887.3,951.3,995]},"axis":{"orient":"bottom","values":[1733011200000,1735689600000,1738368000000,1740787200000,1743465600000,1746057600000,1748736000000,1751328000000,1754006400000,1756684800000,1759276800000,1761955200000,1764547200000,1767225600000,1769904000000,1772323200000,1775001600000,1777593600000,1780272000000,1782864000000],"grid":true,"gridColor":"#999","gridDash":[3,3],"gridWidth":0.8,"ticks":false,"domainColor":"#999","labelFont":"Liberation Sans","labelFontSize":7.5,"labelColor":"#333","labelPadding":3,"labelOverlap":false,"labelFlush":false,"labelExpr":"utcyear(datum.value)==2024?'':utcFormat(datum.value,'%b-%Y')"}},
"y":{"field":"p","type":"quantitative","title":null,"scale":{"domain":[136.55,163.92],"zero":false,"nice":false},"axis":{"orient":"right","values":[138,140,142,144,146,148,150,152,154,156,158,160,162],"format":".3f","grid":false,"tickSize":3,"tickColor":"#333","domainColor":"#222","labelFont":"Liberation Sans","labelFontSize":7,"labelColor":"#333","labelPadding":1,"labelOverlap":false,"labelFlush":false}}
},
"layer":[
{"data":{"name":"bars"},"transform":[{"calculate":"time(datum.d)","as":"x"}],"mark":{"type":"rule","strokeWidth":0.8,"color":"#333"},"encoding":{"y":{"field":"h","type":"quantitative","title":null,"scale":{"domain":[136.55,163.92],"zero":false,"nice":false},"axis":{"orient":"right","values":[138,140,142,144,146,148,150,152,154,156,158,160,162],"format":".3f","grid":false,"tickSize":3,"tickColor":"#333","domainColor":"#222","labelFont":"Liberation Sans","labelFontSize":7,"labelColor":"#333","labelPadding":1,"labelOverlap":false,"labelFlush":false}},"y2":{"field":"l"}}},
{"data":{"name":"bars"},"transform":[{"calculate":"time(datum.d)","as":"x"}],"mark":{"type":"rule","strokeWidth":2},"encoding":{"y":{"field":"o","type":"quantitative","title":null,"scale":{"domain":[136.55,163.92],"zero":false,"nice":false},"axis":{"orient":"right","values":[138,140,142,144,146,148,150,152,154,156,158,160,162],"format":".3f","grid":false,"tickSize":3,"tickColor":"#333","domainColor":"#222","labelFont":"Liberation Sans","labelFontSize":7,"labelColor":"#333","labelPadding":1,"labelOverlap":false,"labelFlush":false}},"y2":{"field":"c"},"color":{"condition":{"test":"datum.c>=datum.o","value":"#9a9a9a"},"value":"#111"}}},
{"data":{"name":"upper"},"transform":[{"calculate":"time(datum.d)","as":"x"}],"mark":{"type":"line","color":"#f04040","strokeWidth":0.8}},
{"data":{"name":"lower"},"transform":[{"calculate":"time(datum.d)","as":"x"}],"mark":{"type":"line","color":"#f04040","strokeWidth":0.8}},
{"data":{"name":"mid"},"transform":[{"calculate":"time(datum.d)","as":"x"}],"mark":{"type":"line","color":"#888","strokeWidth":0.7,"strokeDash":[2,2]}},
{"data":{"name":"levels"},"transform":[{"calculate":"time(datum.d)","as":"x"},{"calculate":"time(datum.d2)","as":"xe"}],"mark":{"type":"rule"},"encoding":{"x2":{"field":"xe"},"strokeWidth":{"field":"w","type":"quantitative","scale":null},"color":{"field":"col","type":"nominal","scale":null}}},
{"data":{"name":"chanU"},"transform":[{"calculate":"time(datum.d)","as":"x"}],"mark":{"type":"line","color":"#1f2be0","strokeWidth":2,"clip":true}},
{"data":{"name":"chanL"},"transform":[{"calculate":"time(datum.d)","as":"x"}],"mark":{"type":"line","color":"#1f2be0","strokeWidth":2,"clip":true}},
{"data":{"name":"greens"},"transform":[{"calculate":"time(datum.d)","as":"x"}],"mark":{"type":"point","shape":"M0 -1L0.8 0L0.3 0L0.3 1L-0.3 1L-0.3 0L-0.8 0Z","filled":true,"color":"#0a7a1a","size":36,"opacity":1}},
{"data":{"name":"reds"},"transform":[{"calculate":"time(datum.d)","as":"x"}],"mark":{"type":"point","shape":"M0 1L0.8 0L0.3 0L0.3 -1L-0.3 -1L-0.3 0L-0.8 0Z","filled":true,"color":"#a01818","size":36,"opacity":1}},
{"data":{"name":"circles"},"transform":[{"calculate":"time(datum.d)","as":"x"}],"mark":{"type":"point","shape":"circle","filled":true,"fill":"#f23030","fillOpacity":0.16,"stroke":"#f01818","strokeWidth":1.3,"strokeOpacity":1},"encoding":{"size":{"field":"s","type":"quantitative","scale":null}}},
{"data":{"name":"arrow"},"transform":[{"calculate":"time(datum.d)","as":"x"}],"mark":{"type":"line","color":"#222","strokeWidth":0.9}},
{"data":{"name":"arrowHead"},"transform":[{"calculate":"time(datum.d)","as":"x"}],"mark":{"type":"point","shape":"triangle-up","angle":149,"filled":true,"color":"#000","size":32,"opacity":1}},
{"data":{"name":"rings"},"transform":[{"calculate":"time(datum.d)","as":"x"}],"mark":{"type":"point","shape":"circle","filled":false,"stroke":"#444","strokeWidth":0.6,"size":88,"opacity":1}},
{"data":{"name":"rings"},"transform":[{"calculate":"time(datum.d)","as":"x"}],"mark":{"type":"text","font":"Liberation Serif","fontSize":8,"color":"#222","baseline":"middle"},"encoding":{"text":{"field":"t"}}},
{"data":{"name":"small"},"transform":[{"calculate":"time(datum.d)","as":"x"}],"mark":{"type":"text","font":"Liberation Serif","fontSize":9,"color":"#222","baseline":"middle"},"encoding":{"text":{"field":"t"}}},
{"data":{"name":"big"},"transform":[{"calculate":"time(datum.d)","as":"x"}],"mark":{"type":"text","font":"Liberation Sans","fontSize":12,"color":"#222","baseline":"middle"},"encoding":{"text":{"field":"t"}}},
{"data":{"name":"boxes"},"transform":[{"calculate":"time(datum.d)","as":"x"},{"calculate":"time(datum.d2)","as":"xe"}],"mark":{"type":"rect","color":"#f62b2d","opacity":1},"encoding":{"x2":{"field":"xe"},"y2":{"field":"p2"}}},
{"data":{"values":[{"d":"2025-09-07","p":140.67}]},"transform":[{"calculate":"time(datum.d)","as":"x"}],"mark":{"type":"point","shape":"M-0.3 -1H0.3V0.1H0.82L0 1L-0.82 0.1H-0.3Z","filled":true,"color":"#fff","size":484,"opacity":1}},
{"data":{"values":[{"d":"2025-09-16T18:00:00Z","p":140.6,"t":"SHORT"}]},"transform":[{"calculate":"time(datum.d)","as":"x"}],"mark":{"type":"text","font":"Roboto","fontWeight":"bold","fontSize":24,"color":"#fff","align":"left","baseline":"middle"},"encoding":{"text":{"field":"t"}}},
{"data":{"values":[{"d":"2026-07-04T12:00:00Z","p":162.02,"t":"FxPro"}]},"transform":[{"calculate":"time(datum.d)","as":"x"}],"mark":{"type":"text","font":"Liberation Serif","fontSize":19,"color":"#fff","baseline":"middle"},"encoding":{"text":{"field":"t"}}},
{"data":{"values":[{"d":"2026-07-04T12:00:00Z","p":161.23,"t":"Trade Like a Pro"}]},"transform":[{"calculate":"time(datum.d)","as":"x"}],"mark":{"type":"text","font":"Roboto","fontSize":6.8,"color":"#fff","baseline":"middle"},"encoding":{"text":{"field":"t"}}},
{"data":{"values":[{"d":"2024-11-28","p":163.48,"t":"USDJPY - 1 day"}]},"transform":[{"calculate":"time(datum.d)","as":"x"}],"mark":{"type":"text","font":"Liberation Sans","fontWeight":"bold","fontSize":7.5,"color":"#333","align":"left","baseline":"middle"},"encoding":{"text":{"field":"t"}}},
{"data":{"name":"tagsP"},"transform":[{"calculate":"time(datum.d)","as":"x"}],"mark":{"type":"point","shape":"M-1 0L-0.8 -0.29H1V0.29H-0.8Z","filled":true,"stroke":"#555","strokeWidth":0.6,"size":784,"opacity":1},"encoding":{"fill":{"field":"f","type":"nominal","scale":null}}},
{"data":{"name":"tagsP"},"transform":[{"calculate":"time(datum.d)","as":"x"}],"mark":{"type":"text","fontSize":6.8,"color":"#222","baseline":"middle","dx":1},"encoding":{"text":{"field":"t"}}}
]},
{"width":995,"height":48,
"encoding":{
"x":{"field":"x","type":"quantitative","title":null,"scale":{"zero":false,"nice":false,"domain":[1732579200000,1733011200000,1735689600000,1738368000000,1740787200000,1743465600000,1746057600000,1748736000000,1751328000000,1754006400000,1756684800000,1759276800000,1761955200000,1764547200000,1767225600000,1769904000000,1772323200000,1773014400000,1775001600000,1777593600000,1780272000000,1782864000000,1784678400000],"range":[0,9.5,54.3,101.7,144.3,189.6,236.6,283.7,328.3,377.7,422.7,469.7,519.3,562,609.3,654,696.5,707.3,756.3,820.7,887.3,951.3,995]},"axis":{"values":[1733011200000,1735689600000,1738368000000,1740787200000,1743465600000,1746057600000,1748736000000,1751328000000,1754006400000,1756684800000,1759276800000,1761955200000,1764547200000,1767225600000,1769904000000,1772323200000,1775001600000,1777593600000,1780272000000,1782864000000],"grid":true,"gridColor":"#999","gridDash":[3,3],"gridWidth":0.8,"ticks":false,"labels":false,"domain":false}},
"y":{"field":"v","type":"quantitative","title":null,"scale":{"domain":[0,100],"nice":false},"axis":null}
},
"layer":[
{"data":{"name":"stLevels"},"transform":[{"filter":"datum.dash==0"},{"calculate":"time(datum.d)","as":"x"},{"calculate":"time(datum.d2)","as":"xe"}],"mark":{"type":"rule","color":"#555","strokeWidth":0.9},"encoding":{"x2":{"field":"xe"}}},
{"data":{"name":"stLevels"},"transform":[{"filter":"datum.dash==1"},{"calculate":"time(datum.d)","as":"x"},{"calculate":"time(datum.d2)","as":"xe"}],"mark":{"type":"rule","color":"#444","strokeWidth":0.8,"strokeDash":[3,2]},"encoding":{"x2":{"field":"xe"}}},
{"data":{"name":"stoch"},"transform":[{"calculate":"time(datum.d)","as":"x"}],"mark":{"type":"line","color":"#c43030","strokeWidth":0.8},"encoding":{"y":{"field":"s","type":"quantitative","axis":null,"title":null}}},
{"data":{"name":"stoch"},"transform":[{"calculate":"time(datum.d)","as":"x"}],"mark":{"type":"line","color":"#222","strokeWidth":1},"encoding":{"y":{"field":"k","type":"quantitative","axis":null,"title":null}}},
{"data":{"values":[{"d":"2024-11-28","v":85.5,"t":"STO Slow(14,3)"}]},"transform":[{"calculate":"time(datum.d)","as":"x"}],"mark":{"type":"text","fontWeight":"bold","fontSize":7.5,"color":"#333","align":"left","baseline":"middle"},"encoding":{"text":{"field":"t"}}},
{"data":{"name":"stTags"},"transform":[{"calculate":"time(datum.d)","as":"x"}],"mark":{"type":"point","shape":"M-1 0L-0.75 -0.4H1V0.4H-0.75Z","filled":true,"fill":"#fff","stroke":"#555","strokeWidth":0.6,"size":289,"opacity":1}},
{"data":{"name":"stTags"},"transform":[{"calculate":"time(datum.d)","as":"x"}],"mark":{"type":"text","fontSize":6.8,"color":"#222","baseline":"middle","dx":1},"encoding":{"text":{"field":"t"}}}
]}
]}
